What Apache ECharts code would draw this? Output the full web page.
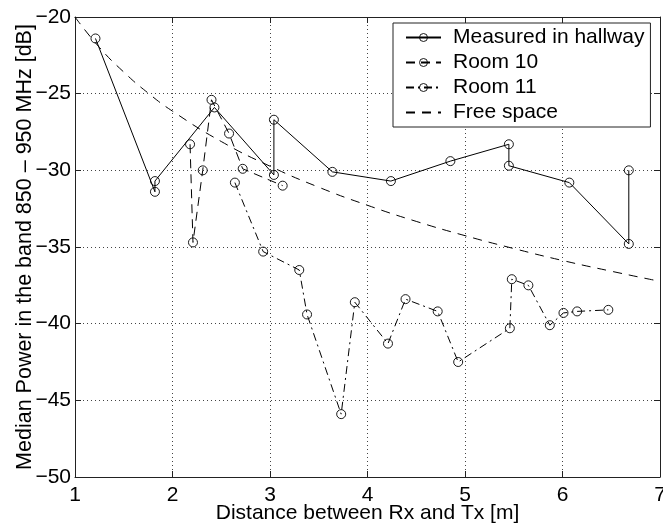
<!DOCTYPE html>
<html>
<head>
<meta charset="utf-8">
<script src="https://cdn.jsdelivr.net/npm/echarts@6/dist/echarts.min.js"></script>
<style>
html,body{margin:0;padding:0;background:#fff;}
#chart{width:663px;height:523px;}
</style>
</head>
<body>
<div id="chart"></div>
<script>
// ---- data ----
const xTicks = [1, 2, 3, 4, 5, 6, 7];
const xTickLabels = ['1', '2', '3', '4', '5', '6', '7'];
const yTicks = [-50, -45, -40, -35, -30, -25, -20];
const yTickLabels = ['\u221250', '\u221245', '\u221240', '\u221235', '\u221230', '\u221225', '\u221220'];

const seriesNames = ['Measured in hallway', 'Room 10', 'Room 11', 'Free space'];

const hallX = [1.21, 1.82, 1.82, 2.43, 3.04, 3.04, 3.64, 4.24, 4.85, 5.45, 5.45, 6.07, 6.68, 6.68];
const hallY = [-21.4, -31.4, -30.7, -25.9, -30.3, -26.7, -30.1, -30.7, -29.4, -28.3, -29.7, -30.8, -34.8, -30.0];

const room10X = [2.18, 2.21, 2.31, 2.40, 2.58, 2.72, 3.13];
const room10Y = [-28.3, -34.7, -30.0, -25.4, -27.6, -29.9, -31.0];

const room11X = [2.64, 2.93, 3.30, 3.38, 3.73, 3.87, 4.21, 4.39, 4.72, 4.93, 5.46, 5.48, 5.65, 5.87, 6.01, 6.15, 6.47];
const room11Y = [-30.8, -35.3, -36.5, -39.4, -45.9, -38.6, -41.3, -38.4, -39.2, -42.5, -40.3, -37.1, -37.5, -40.1, -39.3, -39.2, -39.1];

const freeX = [1, 1.25, 1.5, 1.75, 2, 2.5, 3, 3.5, 4, 4.5, 5, 5.5, 6, 6.5, 7];
const freeY = [-20.0, -21.98, -23.59, -24.96, -26.14, -28.12, -29.73, -31.10, -32.28, -33.33, -34.26, -35.10, -35.88, -36.58, -37.24];

const xName = 'Distance between Rx and Tx [m]';
const yName = 'Median Power in the band 850 \u2013 950 MHz [dB]';

// ---- chart ----
const FONT = "'Liberation Sans', Arial, Helvetica, sans-serif";
const FS = 21;
const zip = (xs, ys) => xs.map((x, i) => [x, ys[i]]);
const fmtX = v => { const i = xTicks.indexOf(v); return i >= 0 ? xTickLabels[i] : ''; };
const fmtY = v => { const i = yTicks.indexOf(v); return i >= 0 ? yTickLabels[i] : ''; };

const frame = { show: true, onZero: false, lineStyle: { color: '#222', width: 1 } };
const ticksIn = { show: true, inside: true, length: 6, lineStyle: { color: '#222', width: 1 } };
const gridDots = { show: true, lineStyle: { color: '#444', width: 1, type: [1, 3] } };

const chart = echarts.init(document.getElementById('chart'), null, { renderer: 'canvas' });
const markerStyle = { color: 'rgba(255,255,255,0)', borderColor: '#000', borderWidth: 0.9 };
const lineBase = { type: 'line', symbol: 'circle', symbolSize: 9, showSymbol: true,
  itemStyle: markerStyle, emphasis: { disabled: true }, animation: false };

chart.setOption({
  backgroundColor: '#fff',
  animation: false,
  textStyle: { fontFamily: FONT },
  grid: { left: 75, right: 3, top: 17, bottom: 46, containLabel: false, outerBoundsMode: 'none' },
  legend: {
    orient: 'vertical', left: 393, top: 23,
    data: [
      { name: seriesNames[0] },
      { name: seriesNames[1] },
      { name: seriesNames[2] },
      { name: seriesNames[3], itemStyle: { opacity: 0 } }
    ],
    backgroundColor: '#fff', borderColor: '#222', borderWidth: 1,
    padding: [4, 6, 4, 12],
    itemWidth: 35, itemHeight: 10, itemGap: 4,
    itemStyle: { color: 'rgba(255,255,255,0)', borderColor: '#000', borderWidth: 0.9 },
    textStyle: { fontFamily: FONT, fontSize: FS, color: '#000', lineHeight: 20, padding: [0, 0, 0, 7] },
    selectedMode: false
  },
  xAxis: [
    { type: 'value', min: 1, max: 7, interval: 1, position: 'bottom',
      axisLine: frame, axisTick: ticksIn,
      axisLabel: { fontFamily: FONT, fontSize: FS, color: '#000', margin: 8, formatter: fmtX },
      splitLine: gridDots,
      name: xName, nameLocation: 'middle', nameGap: 26, nameMoveOverlap: false,
      nameTextStyle: { fontFamily: FONT, fontSize: FS, color: '#000' } },
    { type: 'value', min: 1, max: 7, interval: 1, position: 'top',
      axisLine: frame, axisTick: ticksIn, axisLabel: { show: false }, splitLine: { show: false } }
  ],
  yAxis: [
    { type: 'value', min: -50, max: -20, interval: 5, position: 'left',
      axisLine: frame, axisTick: ticksIn,
      axisLabel: { fontFamily: FONT, fontSize: FS, color: '#000', margin: 4, formatter: fmtY },
      splitLine: gridDots,
      name: yName, nameLocation: 'middle', nameGap: 39, nameRotate: 90, nameMoveOverlap: false,
      nameTextStyle: { fontFamily: FONT, fontSize: 21.5, color: '#000' } },
    { type: 'value', min: -50, max: -20, interval: 5, position: 'right',
      axisLine: frame, axisTick: ticksIn, axisLabel: { show: false }, splitLine: { show: false } }
  ],
  series: [
    Object.assign({}, lineBase, { name: seriesNames[0], data: zip(hallX, hallY),
      lineStyle: { color: '#000', width: 1, type: 'solid' } }),
    Object.assign({}, lineBase, { name: seriesNames[1], data: zip(room10X, room10Y),
      lineStyle: { color: '#000', width: 1, type: [9, 6] } }),
    Object.assign({}, lineBase, { name: seriesNames[2], data: zip(room11X, room11Y),
      lineStyle: { color: '#000', width: 1, type: [8, 4, 2, 4] } }),
    { type: 'line', name: seriesNames[3], data: zip(freeX, freeY), symbol: 'none', smooth: true,
      itemStyle: { color: '#000' }, emphasis: { disabled: true },
      lineStyle: { color: '#000', width: 1, type: [9, 7] }, animation: false }
  ]
});
</script>
</body>
</html>
